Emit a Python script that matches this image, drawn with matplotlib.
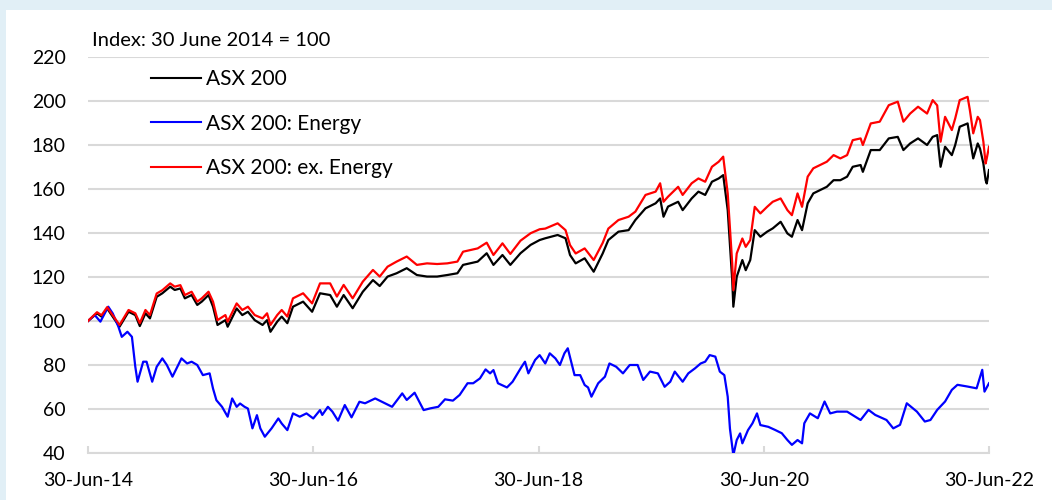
import pandas as pd
import matplotlib
matplotlib.use("Agg")
import matplotlib.pyplot as plt
import matplotlib.dates as mdates
from matplotlib.patches import Rectangle

# dates as decimal years
asx_years = [2014.50, 2014.58, 2014.62, 2014.67, 2014.71, 2014.78, 2014.86, 2014.92, 2014.96, 2015.01,
             2015.05, 2015.11, 2015.16, 2015.23, 2015.27, 2015.32, 2015.36, 2015.42, 2015.47, 2015.51,
             2015.57, 2015.61, 2015.65, 2015.72, 2015.74, 2015.82, 2015.87, 2015.92, 2015.98, 2016.05,
             2016.09, 2016.12, 2016.18, 2016.22, 2016.27, 2016.32, 2016.41, 2016.49, 2016.56, 2016.65,
             2016.71, 2016.77, 2016.85, 2016.94, 2017.03, 2017.09, 2017.16, 2017.24, 2017.33, 2017.42,
             2017.51, 2017.60, 2017.69, 2017.78, 2017.83, 2017.96, 2018.04, 2018.10, 2018.18, 2018.25,
             2018.34, 2018.43, 2018.51, 2018.56, 2018.67, 2018.74, 2018.78, 2018.83, 2018.91, 2018.99,
             2019.07, 2019.12, 2019.21, 2019.30, 2019.36, 2019.45, 2019.54, 2019.58, 2019.61, 2019.65,
             2019.74, 2019.78, 2019.86, 2019.92, 2019.98, 2020.04, 2020.10, 2020.14, 2020.18, 2020.22,
             2020.23, 2020.26, 2020.31, 2020.34, 2020.38, 2020.42, 2020.47, 2020.53, 2020.58, 2020.65,
             2020.71, 2020.75, 2020.80, 2020.84, 2020.89, 2020.94, 2021.00, 2021.06, 2021.12, 2021.18,
             2021.24, 2021.29, 2021.36, 2021.38, 2021.45, 2021.53, 2021.61, 2021.69, 2021.74, 2021.80,
             2021.87, 2021.95, 2022.00, 2022.04, 2022.07, 2022.11, 2022.17, 2022.20, 2022.24, 2022.31,
             2022.33, 2022.36, 2022.40, 2022.42, 2022.45, 2022.47, 2022.48, 2022.50]

asx200 = [100.0, 103.5, 102.0, 105.7, 102.7, 97.4, 104.2, 102.7, 97.7, 103.5,
          101.2, 111.0, 112.6, 115.6, 114.1, 114.8, 110.3, 111.8, 107.3, 108.8,
          111.8, 106.5, 98.2, 100.4, 97.4, 105.7, 102.7, 104.2, 100.4, 98.2,
          100.4, 95.1, 99.7, 102.0, 99.0, 106.5, 108.8, 104.2, 112.6, 111.8,
          106.5, 111.8, 105.8, 113.3, 118.6, 115.9, 120.2, 121.7, 124.0, 120.9,
          120.2, 120.2, 120.9, 121.7, 125.5, 127.0, 130.8, 125.5, 130.0, 125.5,
          130.8, 134.6, 136.8, 137.6, 139.1, 137.6, 130.0, 126.2, 128.5, 122.4,
          130.7, 136.8, 140.6, 141.3, 145.9, 151.2, 153.5, 155.7, 147.4, 152.0,
          154.2, 150.4, 155.7, 158.8, 157.3, 163.3, 164.8, 166.3, 150.4, 118.6,
          106.5, 120.1, 127.7, 123.1, 127.7, 141.3, 138.3, 140.6, 142.1, 145.1,
          139.8, 138.3, 145.9, 141.3, 153.5, 158.0, 159.5, 161.0, 164.0, 164.0,
          165.6, 170.1, 170.9, 167.8, 177.7, 177.7, 183.0, 183.7, 177.7, 180.7,
          183.0, 180.0, 183.7, 184.5, 170.1, 179.2, 175.4, 180.0, 188.3, 189.8,
          183.0, 173.9, 180.7, 178.4, 171.6, 164.0, 162.5, 168.6]

asx200_ex_energy = [100.0, 104.0, 102.6, 106.3, 103.3, 98.2, 105.0, 103.5, 99.0, 105.0,
                    102.7, 112.5, 114.0, 117.1, 115.6, 116.3, 111.8, 113.3, 108.8, 110.3,
                    113.3, 108.8, 100.4, 102.7, 99.7, 108.0, 105.0, 106.5, 102.7, 101.2,
                    103.5, 98.2, 102.7, 105.0, 102.0, 110.3, 112.6, 108.0, 117.1, 117.1,
                    111.1, 116.4, 110.3, 117.9, 123.2, 120.2, 124.7, 127.0, 129.3, 125.5,
                    126.2, 125.9, 126.2, 127.0, 131.5, 133.0, 135.6, 130.0, 135.3, 130.5,
                    136.5, 139.9, 141.7, 142.0, 144.4, 141.3, 134.5, 130.7, 133.0, 127.7,
                    135.5, 142.0, 145.9, 147.4, 149.7, 157.3, 158.8, 162.6, 154.2, 156.5,
                    161.0, 157.3, 162.6, 164.8, 163.3, 170.1, 172.4, 174.7, 158.0, 126.2,
                    114.0, 130.7, 137.5, 133.7, 136.8, 151.9, 148.9, 151.9, 154.2, 155.7,
                    150.4, 148.1, 158.0, 151.9, 165.6, 169.4, 170.9, 172.4, 175.4, 173.9,
                    175.4, 182.2, 183.0, 180.0, 189.8, 190.6, 198.1, 199.7, 190.6, 194.3,
                    197.4, 194.3, 200.4, 198.0, 181.5, 192.8, 186.8, 192.1, 200.4, 201.9,
                    195.9, 185.3, 192.8, 191.3, 181.5, 171.6, 173.9, 179.2]

energy_years = [2014.50, 2014.56, 2014.61, 2014.68, 2014.72, 2014.77, 2014.80, 2014.85, 2014.89, 2014.92,
                2014.94, 2014.99, 2015.02, 2015.07, 2015.11, 2015.16, 2015.20, 2015.25, 2015.33, 2015.38,
                2015.42, 2015.47, 2015.52, 2015.58, 2015.61, 2015.64, 2015.69, 2015.74, 2015.78, 2015.82,
                2015.85, 2015.89, 2015.92, 2015.96, 2016.00, 2016.03, 2016.07, 2016.13, 2016.19, 2016.22,
                2016.27, 2016.32, 2016.38, 2016.44, 2016.50, 2016.56, 2016.58, 2016.63, 2016.67, 2016.72,
                2016.78, 2016.84, 2016.91, 2016.96, 2017.05, 2017.11, 2017.20, 2017.29, 2017.33, 2017.40,
                2017.48, 2017.54, 2017.61, 2017.67, 2017.74, 2017.80, 2017.87, 2017.92, 2017.98, 2018.03,
                2018.07, 2018.10, 2018.14, 2018.22, 2018.27, 2018.35, 2018.38, 2018.41, 2018.47, 2018.51,
                2018.56, 2018.60, 2018.65, 2018.69, 2018.73, 2018.76, 2018.79, 2018.82, 2018.87, 2018.91,
                2018.94, 2018.97, 2019.03, 2019.09, 2019.13, 2019.19, 2019.25, 2019.31, 2019.38, 2019.43,
                2019.49, 2019.56, 2019.62, 2019.67, 2019.71, 2019.78, 2019.83, 2019.89, 2019.94, 2019.98,
                2020.02, 2020.07, 2020.11, 2020.15, 2020.18, 2020.20, 2020.23, 2020.26, 2020.29, 2020.31,
                2020.36, 2020.40, 2020.44, 2020.47, 2020.54, 2020.60, 2020.66, 2020.71, 2020.75, 2020.80,
                2020.84, 2020.86, 2020.91, 2020.98, 2021.04, 2021.09, 2021.15, 2021.24, 2021.36, 2021.43,
                2021.49, 2021.59, 2021.65, 2021.71, 2021.77, 2021.86, 2021.93, 2021.98, 2022.04, 2022.11,
                2022.17, 2022.22, 2022.31, 2022.39, 2022.44, 2022.46, 2022.50]

asx200_energy = [100.0, 102.7, 99.7, 106.5, 103.4, 97.4, 92.8, 95.1, 92.8, 79.2,
                 72.4, 81.5, 81.5, 72.4, 79.2, 83.0, 80.0, 74.7, 83.0, 80.7,
                 81.5, 80.0, 75.4, 76.2, 69.3, 64.0, 61.0, 56.5, 64.8, 61.0,
                 62.5, 61.0, 60.2, 51.2, 57.2, 51.2, 47.4, 51.2, 55.7, 53.4,
                 50.4, 58.0, 56.5, 58.0, 55.7, 59.5, 57.3, 61.0, 58.8, 54.7,
                 61.8, 56.2, 63.3, 62.6, 64.8, 63.3, 61.0, 67.1, 64.1, 67.4,
                 59.5, 60.3, 61.0, 64.4, 63.8, 66.4, 71.7, 71.7, 73.9, 78.0,
                 76.2, 77.7, 71.7, 69.8, 72.4, 79.2, 81.5, 76.2, 82.3, 84.5,
                 80.7, 85.3, 83.0, 80.0, 85.3, 87.6, 81.5, 75.4, 75.4, 70.9,
                 69.8, 65.6, 71.7, 74.7, 80.7, 79.2, 76.2, 80.0, 80.0, 73.2,
                 77.0, 76.2, 70.1, 72.4, 77.0, 72.4, 76.2, 78.5, 80.7, 81.5,
                 84.5, 83.8, 77.0, 75.4, 65.6, 51.0, 39.0, 45.9, 48.9, 44.4,
                 50.4, 53.5, 58.0, 52.7, 51.9, 50.5, 49.0, 45.9, 43.7, 45.9,
                 44.4, 53.5, 58.0, 55.8, 63.4, 58.0, 58.8, 58.8, 55.0, 59.6,
                 57.3, 55.0, 51.2, 52.8, 62.6, 58.8, 54.3, 55.0, 59.6, 63.4,
                 68.7, 71.0, 70.2, 69.4, 77.8, 67.9, 71.7]

series_labels = ["ASX 200", "ASX 200: Energy", "ASX 200: ex. Energy"]
x_ticks = ["2014-06-30", "2016-06-30", "2018-06-30", "2020-06-30", "2022-06-30"]
y_ticks = [40, 60, 80, 100, 120, 140, 160, 180, 200, 220]
note = "Index: 30 June 2014 = 100"


def to_dates(years):
    # decimal year -> timestamp, anchored on 30 June 2014
    start = pd.Timestamp("2014-06-30")
    return [start + pd.Timedelta(days=(y - 2014.5) * 365.25) for y in years]


plt.rcParams["font.family"] = ["Lato", "DejaVu Sans"]
grid_col = "#D9D9D9"

fig = plt.figure(figsize=(10.52, 5.0), dpi=100, facecolor="#E1EFF6")
# white panel inside the light blue frame
fig.add_artist(Rectangle((6 / 1052, 0), 1, 1 - 10 / 500, transform=fig.transFigure,
                         facecolor="white", edgecolor="none", zorder=-5))

ax = fig.add_axes([88 / 1052, 1 - 453 / 500, (989 - 88) / 1052, (453 - 57) / 500])
ax.set_facecolor("none")

ax.plot(to_dates(asx_years), asx200, color="black", lw=1.6, label=series_labels[0], zorder=3)
ax.plot(to_dates(energy_years), asx200_energy, color="#0000FF", lw=1.6, label=series_labels[1], zorder=3)
ax.plot(to_dates(asx_years), asx200_ex_energy, color="#FF0000", lw=1.6, label=series_labels[2], zorder=4)

ax.set_ylim(40, 220)
ax.set_yticks(y_ticks)
ax.set_xlim(pd.Timestamp(x_ticks[0]), pd.Timestamp(x_ticks[-1]))
ax.set_xticks([pd.Timestamp(d) for d in x_ticks])
ax.xaxis.set_major_formatter(mdates.DateFormatter("%d-%b-%y"))

ax.yaxis.grid(True, color=grid_col, lw=1.5, zorder=0)
ax.set_axisbelow(True)
for side in ["left", "right", "top"]:
    ax.spines[side].set_visible(False)
ax.spines["bottom"].set_color(grid_col)
ax.spines["bottom"].set_linewidth(1.5)

ax.tick_params(axis="y", length=0, pad=16, labelsize=14)
ax.tick_params(axis="x", direction="in", length=5, width=1.5, color=grid_col, pad=14, labelsize=14)

leg = ax.legend(loc="upper left", bbox_to_anchor=(0.0607, 0.99), frameon=False, fontsize=15,
                handlelength=2.4, handletextpad=0.25, labelspacing=1.17, borderaxespad=0.0)
for line in leg.get_lines():
    line.set_linewidth(1.5)

fig.text(92 / 1052, 1 - 40 / 500, note, fontsize=14.5, va="center", ha="left")

fig.savefig("out.png", dpi=100, facecolor=fig.get_facecolor())
